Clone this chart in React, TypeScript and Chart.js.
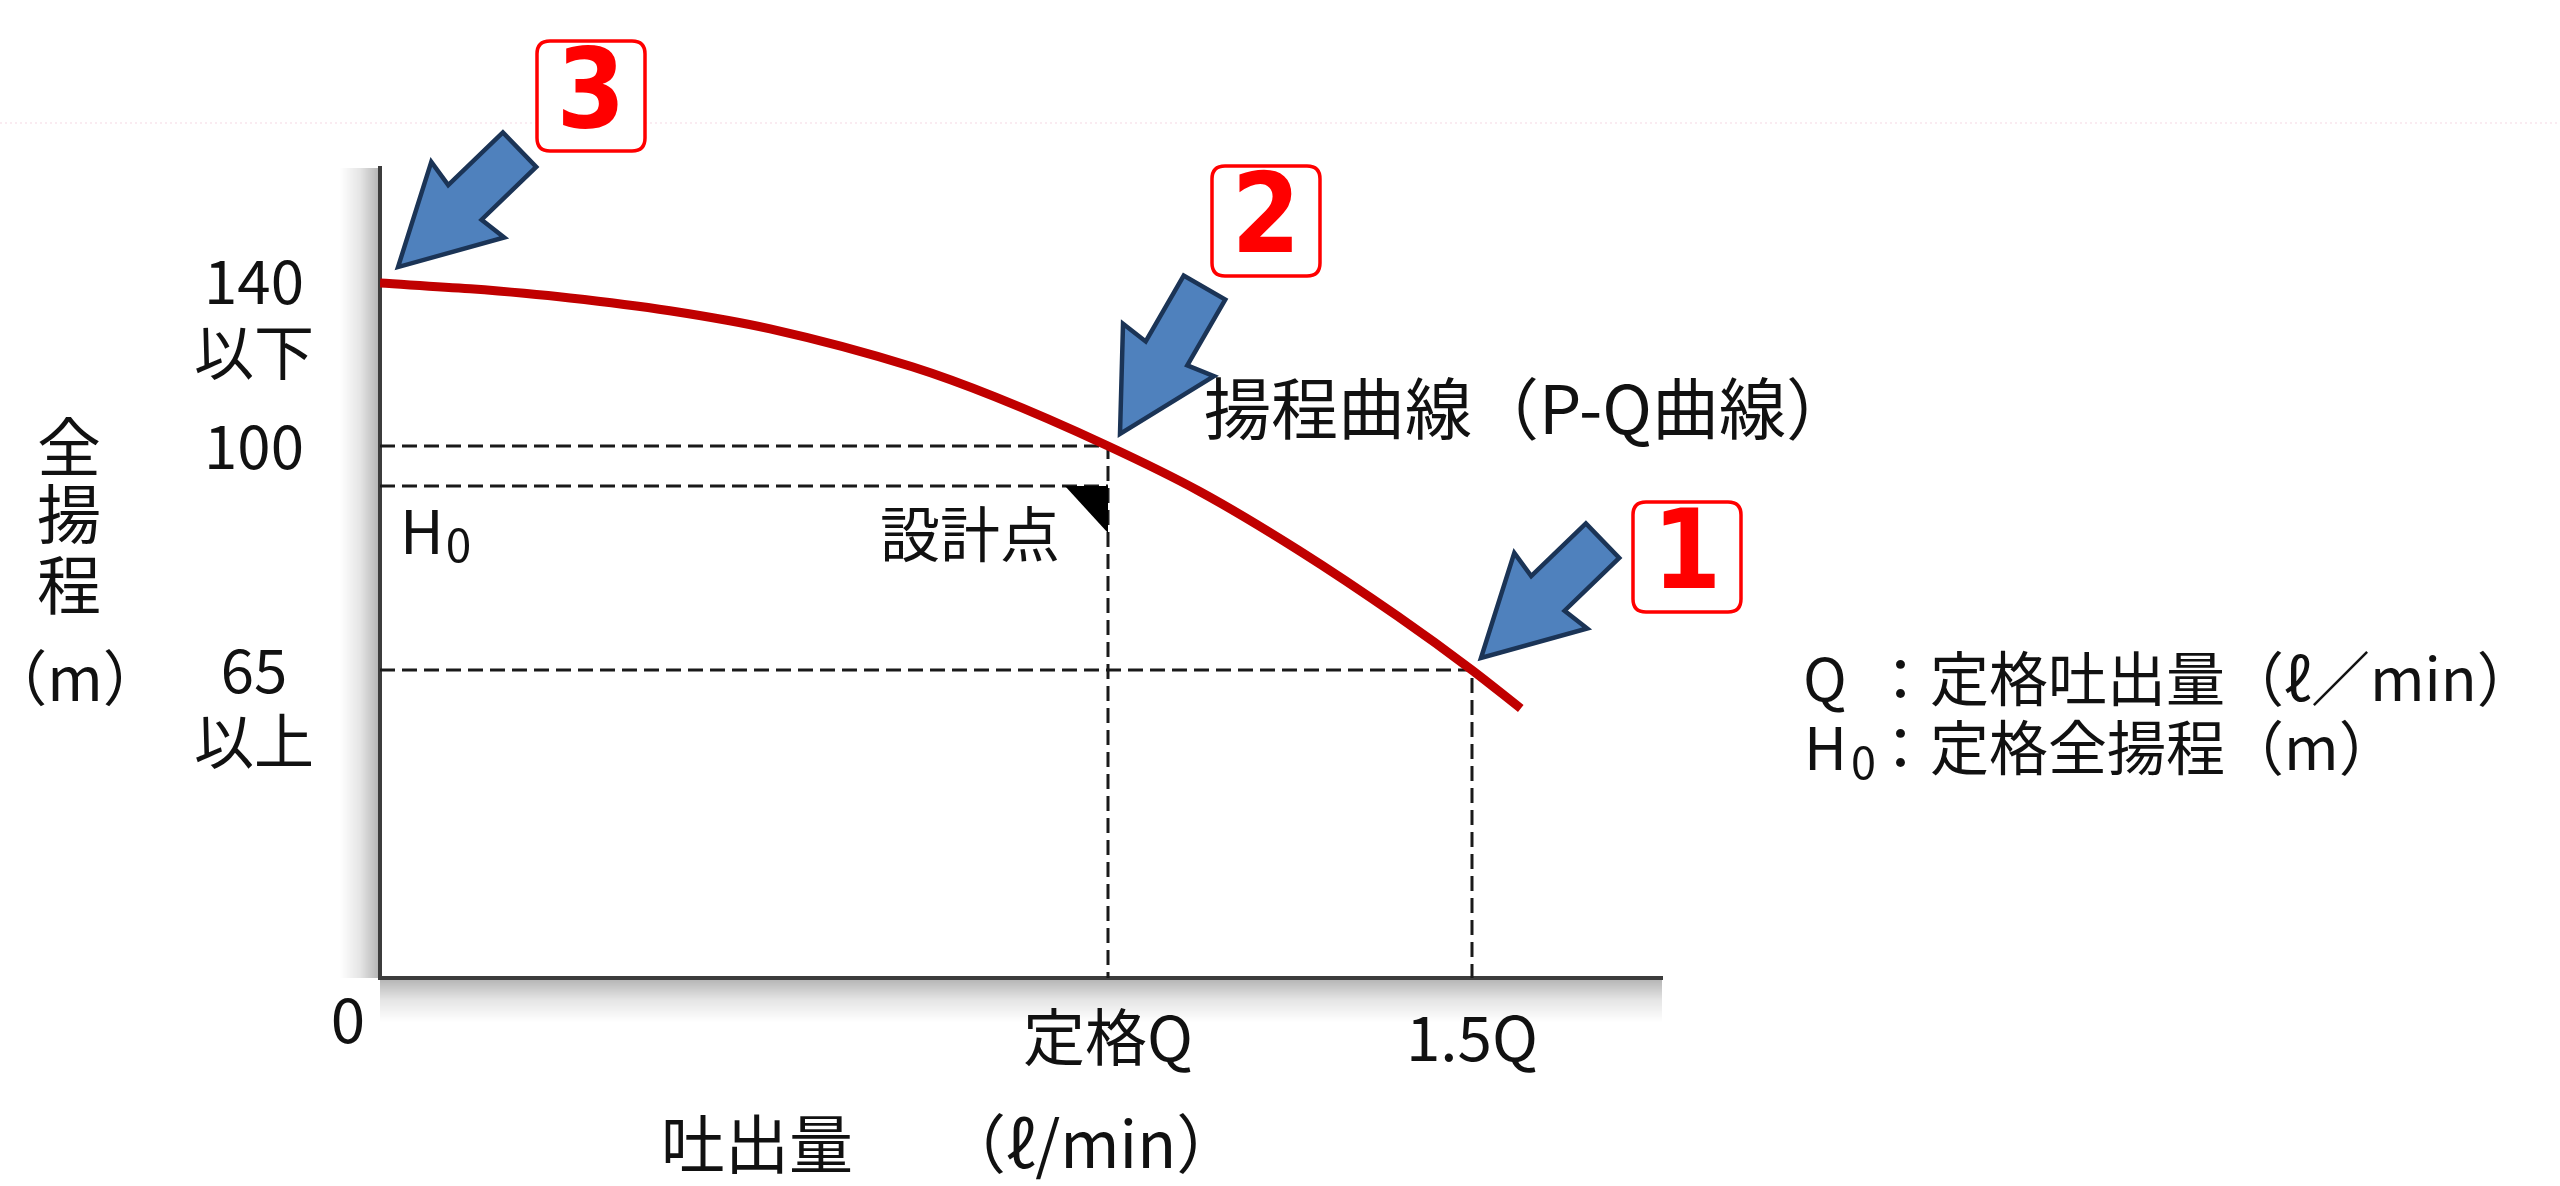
import React, { useEffect, useRef } from 'react';
import { Chart, LinearScale, registerables } from 'chart.js';

// ---------------- data ----------------
// flow as multiples of the rated flow Q, head in m (schematic)
const flowQ = [0, 0.124, 0.261, 0.398, 0.536, 0.731, 0.845, 1.0, 1.126, 1.262, 1.398, 1.5, 1.567];
const headM = [139.5, 138.1, 135.9, 132.8, 128.4, 119.2, 111.9, 100, 92.9, 83.7, 73.4, 65, 56.9];

const xTickValues = [1, 1.5];
const xTickLabels = ['定格Q', '1.5Q'];
const yTickValues = [65, 100, 140];
const yTickLabels = [['65', '以上'], ['100', ''], ['140', '以下']];

const ratedFlow = 1;
const ratedHeadLine = 100;
const ratedHeadH0 = 93.75;
const overFlow = 1.5;
const overHead = 65;
const shutoffHead = 139.5;

const curveLabel = '揚程曲線（P-Q曲線）';
const designLabel = '設計点';
const xTitleMain = '吐出量';
const xTitleUnit = '（ℓ/min）';
const yTitleChars = ['全', '揚', '程'];
const yTitleUnit = '（m）';
const legendLine1 = '：定格吐出量（ℓ／min）';
const legendLine2 = '：定格全揚程（m）';

// numbered call-outs, anchored at points of the curve
const calloutNumbers = ['3', '2', '1'];
const calloutFlows = [0, ratedFlow, overFlow];
const calloutHeads = [shutoffHead, ratedHeadLine, overHead];

// ---------------- scale (schematic, piecewise linear head axis) ----------------
const Y_BREAKS: [number, number][] = [
  [0, 0],
  [65, 0.3802],
  [100, 0.6568],
  [140, 0.8605],
  [167.5, 1],
];
function valueToFrac(v: number) {
  for (let i = 1; i < Y_BREAKS.length; i++) {
    const [v0, f0] = Y_BREAKS[i - 1];
    const [v1, f1] = Y_BREAKS[i];
    if (v <= v1 || i === Y_BREAKS.length - 1) {
      return f0 + ((v - v0) / (v1 - v0)) * (f1 - f0);
    }
  }
  return 0;
}
function fracToValue(f: number) {
  for (let i = 1; i < Y_BREAKS.length; i++) {
    const [v0, f0] = Y_BREAKS[i - 1];
    const [v1, f1] = Y_BREAKS[i];
    if (f <= f1 || i === Y_BREAKS.length - 1) {
      return v0 + ((f - f0) / (f1 - f0)) * (v1 - v0);
    }
  }
  return 0;
}

class PiecewiseScale extends LinearScale {
  static id = 'piecewise';
  getPixelForValue(value: number) {
    return (this as any).getPixelForDecimal(valueToFrac(value));
  }
  getValueForPixel(pixel: number) {
    return fracToValue((this as any).getDecimalForPixel(pixel));
  }
}

Chart.register(...registerables);
Chart.register(PiecewiseScale as any);

const FONT = '"Noto Sans CJK JP", "Noto Sans", sans-serif';
const NUM_FONT = '"DejaVu Sans Condensed", "DejaVu Sans", sans-serif';
const TEXT = '#111111';

function font(size: number, weight = 'normal', family = FONT) {
  return `${weight} ${size}px ${family}`;
}

function drawArrow(ctx: CanvasRenderingContext2D, tx: number, ty: number, angleDeg: number) {
  const a = (angleDeg * Math.PI) / 180;
  const d = [Math.cos(a), Math.sin(a)];
  const p = [-Math.sin(a), Math.cos(a)];
  const L = 169, barbU = 97, neckU = 93, headW = 105, shaftW = 48;
  const local: [number, number][] = [
    [0, 0],
    [barbU, -headW / 2],
    [neckU, -shaftW / 2],
    [L, -shaftW / 2],
    [L, shaftW / 2],
    [neckU, shaftW / 2],
    [barbU, headW / 2],
  ];
  ctx.save();
  ctx.beginPath();
  local.forEach(([u, v], i) => {
    const x = tx + u * d[0] + v * p[0];
    const y = ty + u * d[1] + v * p[1];
    if (i === 0) ctx.moveTo(x, y);
    else ctx.lineTo(x, y);
  });
  ctx.closePath();
  ctx.fillStyle = '#4f81bd';
  ctx.fill();
  ctx.lineWidth = 4.5;
  ctx.strokeStyle = '#1b3456';
  ctx.lineJoin = 'miter';
  ctx.stroke();
  ctx.restore();
}

function roundRect(ctx: CanvasRenderingContext2D, x: number, y: number, w: number, h: number, r: number) {
  ctx.beginPath();
  ctx.moveTo(x + r, y);
  ctx.lineTo(x + w - r, y);
  ctx.quadraticCurveTo(x + w, y, x + w, y + r);
  ctx.lineTo(x + w, y + h - r);
  ctx.quadraticCurveTo(x + w, y + h, x + w - r, y + h);
  ctx.lineTo(x + r, y + h);
  ctx.quadraticCurveTo(x, y + h, x, y + h - r);
  ctx.lineTo(x, y + r);
  ctx.quadraticCurveTo(x, y, x + r, y);
  ctx.closePath();
}

// arrow styling per call-out (angle from tip to tail, tip offset, box offset)
const calloutStyle = [
  { angle: -44, tip: [18, -16], box: [193, -171] },
  { angle: -60, tip: [12, -12], box: [146, -213] },
  { angle: -44, tip: [9, -12], box: [206, -101] },
];

const decorPlugin = {
  id: 'decor',
  beforeDraw(chart: any) {
    const { ctx, chartArea } = chart;
    const { left, right, top, bottom } = chartArea;
    ctx.save();
    // faint separator line near the top
    ctx.strokeStyle = 'rgba(236, 170, 195, 0.3)';
    ctx.lineWidth = 1.5;
    ctx.setLineDash([2, 3]);
    ctx.beginPath();
    ctx.moveTo(0, 123);
    ctx.lineTo(chart.width, 123);
    ctx.stroke();
    ctx.setLineDash([]);
    // axis shadows
    const gy = ctx.createLinearGradient(left, 0, left - 40, 0);
    gy.addColorStop(0, 'rgba(0,0,0,0.30)');
    gy.addColorStop(0.5, 'rgba(0,0,0,0.10)');
    gy.addColorStop(1, 'rgba(0,0,0,0)');
    ctx.fillStyle = gy;
    ctx.fillRect(left - 40, top, 40, bottom - top);
    const gx = ctx.createLinearGradient(0, bottom, 0, bottom + 44);
    gx.addColorStop(0, 'rgba(0,0,0,0.30)');
    gx.addColorStop(0.5, 'rgba(0,0,0,0.10)');
    gx.addColorStop(1, 'rgba(0,0,0,0)');
    ctx.fillStyle = gx;
    ctx.fillRect(left, bottom, right - left, 44);
    ctx.restore();
  },
  afterDatasetsDraw(chart: any) {
    const { ctx } = chart;
    const xs = chart.scales.x;
    const ys = chart.scales.y;
    ctx.save();
    // design point marker
    const qx = xs.getPixelForValue(ratedFlow);
    const hy = ys.getPixelForValue(ratedHeadH0);
    ctx.beginPath();
    ctx.moveTo(qx - 43, hy);
    ctx.lineTo(qx, hy);
    ctx.lineTo(qx, hy + 47);
    ctx.closePath();
    ctx.fillStyle = '#000';
    ctx.fill();
    // call-out arrows and numbered boxes
    calloutNumbers.forEach((num, i) => {
      const st = calloutStyle[i];
      const px = xs.getPixelForValue(calloutFlows[i]);
      const py = ys.getPixelForValue(calloutHeads[i]);
      const tx = px + st.tip[0];
      const ty = py + st.tip[1];
      drawArrow(ctx, tx, ty, st.angle);
      const cx = tx + st.box[0];
      const cy = ty + st.box[1];
      const w = 108, h = 110;
      roundRect(ctx, cx - w / 2, cy - h / 2, w, h, 13);
      ctx.fillStyle = '#fff';
      ctx.fill();
      ctx.lineWidth = 3.5;
      ctx.strokeStyle = '#ff0000';
      ctx.stroke();
      ctx.fillStyle = '#ff0000';
      ctx.font = font(110, 'bold', NUM_FONT);
      ctx.textAlign = 'center';
      ctx.textBaseline = 'middle';
      ctx.fillText(num, cx, cy + 2);
    });
    ctx.restore();
  },
  afterDraw(chart: any) {
    const { ctx } = chart;
    const xs = chart.scales.x;
    const ys = chart.scales.y;
    ctx.save();
    ctx.fillStyle = TEXT;
    ctx.textBaseline = 'middle';

    // curve label
    ctx.font = font(67);
    ctx.textAlign = 'left';
    ctx.fillText(curveLabel, xs.getPixelForValue(ratedFlow) + 96, ys.getPixelForValue(ratedHeadLine) - 37);

    // design point label
    ctx.font = font(60);
    ctx.textAlign = 'right';
    ctx.fillText(designLabel, xs.getPixelForValue(ratedFlow) - 48, ys.getPixelForValue(ratedHeadH0) + 48);

    // H0 label
    const h0x = xs.getPixelForValue(0) + 20;
    const h0y = ys.getPixelForValue(ratedHeadH0) + 45;
    ctx.textAlign = 'left';
    ctx.font = font(60);
    ctx.fillText('H', h0x, h0y);
    const hw = ctx.measureText('H').width;
    ctx.font = font(46);
    ctx.fillText('0', h0x + hw + 2, h0y + 14);

    // origin label
    ctx.font = font(62);
    ctx.textAlign = 'center';
    ctx.fillText('0', xs.getPixelForValue(0) - 32, chart.chartArea.bottom + 41);

    // x title
    ctx.font = font(64);
    ctx.textAlign = 'left';
    ctx.fillText(xTitleMain, 661, 1144);
    ctx.fillText(xTitleUnit, 942, 1144);

    // y title (vertical)
    ctx.textAlign = 'center';
    ctx.font = font(64);
    const yPos = [447, 514, 585];
    yTitleChars.forEach((c, i) => ctx.fillText(c, 69, yPos[i]));
    ctx.font = font(60);
    ctx.fillText(yTitleUnit, 75, 678);

    // legend
    ctx.textAlign = 'left';
    ctx.font = font(59);
    ctx.fillText('Q', 1803, 679);
    ctx.fillText(legendLine1, 1871, 679);
    ctx.fillText('H', 1804, 748);
    const hw2 = ctx.measureText('H').width;
    ctx.fillText(legendLine2, 1871, 748);
    ctx.font = font(45);
    ctx.fillText('0', 1804 + hw2 + 4, 762);

    ctx.restore();
  },
};

export default function App() {
  const ref = useRef<HTMLCanvasElement | null>(null);

  useEffect(() => {
    document.body.style.margin = '0';
    const canvas = ref.current;
    if (!canvas) return;

    const curve = flowQ.map((x, i) => ({ x, y: headM[i] }));
    const dashed = {
      borderColor: '#1a1a1a',
      borderWidth: 3,
      borderDash: [15, 7],
      pointRadius: 0,
      tension: 0,
      fill: false,
    };

    const chart = new Chart(canvas, {
      type: 'line',
      data: {
        datasets: [
          {
            data: curve,
            borderColor: '#c00000',
            borderWidth: 9,
            pointRadius: 0,
            cubicInterpolationMode: 'monotone',
            fill: false,
            borderCapStyle: 'butt',
          } as any,
          {
            ...dashed,
            data: [
              { x: 0, y: ratedHeadLine },
              { x: ratedFlow, y: ratedHeadLine },
              { x: ratedFlow, y: 0 },
            ],
          },
          {
            ...dashed,
            data: [
              { x: 0, y: ratedHeadH0 },
              { x: ratedFlow, y: ratedHeadH0 },
            ],
          },
          {
            ...dashed,
            data: [
              { x: 0, y: overHead },
              { x: overFlow, y: overHead },
              { x: overFlow, y: 0 },
            ],
          },
        ],
      },
      options: {
        responsive: false,
        animation: false,
        events: [],
        layout: { padding: { top: 168, right: 898, left: 0, bottom: 0 } },
        plugins: {
          legend: { display: false },
          tooltip: { enabled: false },
          title: { display: false },
        },
        scales: {
          x: {
            type: 'linear',
            min: 0,
            max: 1.761,
            afterBuildTicks: (s: any) => {
              s.ticks = xTickValues.map((v) => ({ value: v }));
            },
            afterFit: (s: any) => {
              s.height = 208;
            },
            grid: { display: false, drawTicks: false },
            border: { display: true, color: '#3c3c3c', width: 4 },
            ticks: {
              autoSkip: false,
              maxRotation: 0,
              callback: (_v: any, i: number) => xTickLabels[i],
              font: { family: FONT, size: 62, lineHeight: 1.2 },
              color: TEXT,
              padding: 22,
            },
          },
          y: {
            type: 'piecewise' as any,
            min: 0,
            max: 167.5,
            afterBuildTicks: (s: any) => {
              s.ticks = yTickValues.map((v) => ({ value: v }));
            },
            afterFit: (s: any) => {
              s.width = 380;
            },
            grid: { display: false, drawTicks: false },
            border: { display: true, color: '#3c3c3c', width: 4 },
            ticks: {
              callback: (_v: any, i: number) => yTickLabels[i],
              font: { family: FONT, size: 60, lineHeight: 1.18 },
              color: TEXT,
              padding: 66,
              crossAlign: 'center',
              labelOffset: 35.4,
            },
          } as any,
        },
      },
      plugins: [decorPlugin as any],
    });

    return () => chart.destroy();
  }, []);

  return (
    <div style={{ width: 2560, height: 1186, background: '#fff' }}>
      <canvas ref={ref} width={2560} height={1186} style={{ display: 'block' }} />
    </div>
  );
}
